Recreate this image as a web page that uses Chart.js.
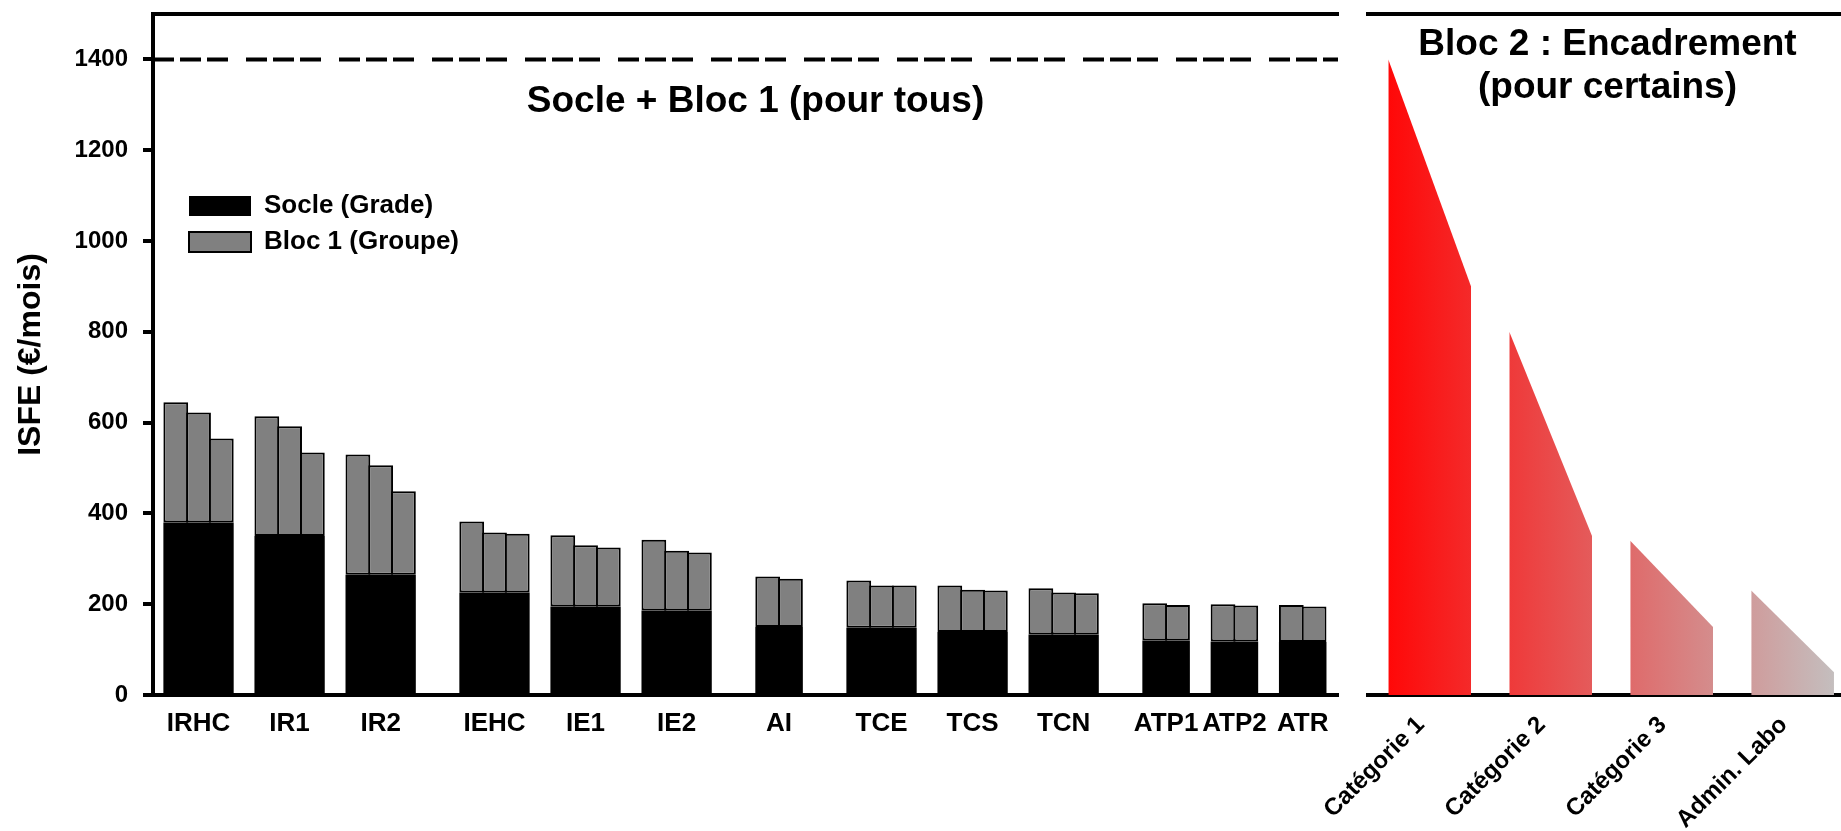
<!DOCTYPE html>
<html lang="fr">
<head>
<meta charset="utf-8">
<title>ISFE – Socle, Bloc 1 et Bloc 2</title>
<script src="https://cdn.jsdelivr.net/npm/chart.js@4.4.1/dist/chart.umd.min.js"></script>
<style>
  html, body { margin: 0; padding: 0; background: #fff; }
  body { width: 1841px; height: 831px; position: relative; overflow: hidden; }
  canvas { position: absolute; top: 0; }
  #leftChart { left: 0; }
  #rightChart { left: 1290px; }
</style>
</head>
<body>
<canvas id="leftChart" width="1345" height="831"></canvas>
<canvas id="rightChart" width="551" height="831"></canvas>
<script>
// Données (€/mois)
const groupes = ['IRHC', 'IR1', 'IR2', 'IEHC', 'IE1', 'IE2', 'AI', 'TCE', 'TCS', 'TCN', 'ATP1', 'ATP2', 'ATR'];
const familles = ['IR', 'IR', 'IR', 'IE', 'IE', 'IE', 'AI', 'TC', 'TC', 'TC', 'ATP', 'ATP', 'ATP'];
const socle = [380, 350, 265, 226, 195, 186, 150, 148, 139, 133, 120, 118, 117];
// Socle + Bloc 1, un total par barre (par échelon du groupe)
const totalBloc1 = [
  [645, 622, 565], [614, 592, 534], [530, 506, 449],
  [382, 358, 355], [352, 330, 325], [342, 318, 314],
  [261, 256],
  [252, 241, 241], [241, 232, 230], [235, 226, 224],
  [202, 198], [200, 197], [198, 195]
];
const plafond = 1400;
const yTicks = [0, 200, 400, 600, 800, 1000, 1200, 1400];
const yMax = 1500;

const bloc2Cats = ['Catégorie 1', 'Catégorie 2', 'Catégorie 3', 'Admin. Labo'];
const bloc2Haut = [1400, 800, 340, 230];
const bloc2Bas = [900, 350, 150, 50];

Chart.defaults.font.family = '"Liberation Sans", Arial, Helvetica, sans-serif';
Chart.defaults.font.weight = 'bold';
Chart.defaults.font.size = 24;
Chart.defaults.color = '#000';

// Placement des barres : une case par barre, 1 case vide entre groupes, 2 entre familles
let slot = 0;
const socleData = [], bloc1Data = [], centresGroupes = [];
groupes.forEach((g, i) => {
  if (i > 0) slot += familles[i] === familles[i - 1] ? 1 : 2;
  const n = totalBloc1[i].length;
  centresGroupes.push(slot + n / 2);
  totalBloc1[i].forEach((tot, j) => {
    const x = slot + j + 0.5;
    socleData.push({ x, y: socle[i] });
    bloc1Data.push({ x, y: [socle[i], tot] });
  });
  slot += n;
});
const xMin = -0.5, xMax = slot + 0.55;

// Titres de panneau écrits dans la zone de tracé
const titrePanneau = {
  id: 'titrePanneau',
  afterDraw(chart, args, opts) {
    const { ctx, chartArea } = chart;
    ctx.save();
    ctx.font = 'bold ' + (opts.size || 36) + 'px "Liberation Sans", Arial, sans-serif';
    ctx.fillStyle = '#000';
    ctx.textAlign = 'center';
    ctx.textBaseline = 'alphabetic';
    const cx = (chartArea.left + chartArea.right) / 2 + (opts.dx || 0);
    opts.lines.forEach((t, i) => ctx.fillText(t, cx, opts.y + i * 43));
    ctx.restore();
  }
};

// Légende posée dans le cadre, en haut à gauche
const legendeDansCadre = {
  id: 'legendeDansCadre',
  afterLayout(chart, args, opts) {
    const lg = chart.legend;
    if (!lg) return;
    lg.left = chart.chartArea.left + opts.dx;
    lg.top = chart.chartArea.top + opts.dy;
    lg.right = lg.left + lg.width;
    lg.bottom = chart.chartArea.bottom;
  }
};

const largeurBarre = 1.088; // barres jointives, bordures superposées

new Chart(document.getElementById('leftChart'), {
  type: 'bar',
  data: {
    datasets: [
      { label: 'Socle (Grade)', data: socleData, backgroundColor: '#000', borderWidth: 0,
        grouped: false, barPercentage: largeurBarre, categoryPercentage: 1 },
      { label: 'Bloc 1 (Groupe)', data: bloc1Data, backgroundColor: '#808080', borderColor: '#000',
        borderWidth: 2, borderSkipped: false, grouped: false, barPercentage: largeurBarre, categoryPercentage: 1 },
      { type: 'line', label: 'Plafond', data: [{ x: xMin, y: plafond }, { x: xMax, y: plafond }],
        borderColor: '#000', borderWidth: 4, borderDash: [21, 6, 21, 6, 21, 18], pointRadius: 0, fill: false }
    ]
  },
  options: {
    responsive: false,
    animation: false,
    layout: { padding: { left: 0, top: 14, right: 7, bottom: 0 } },
    scales: {
      x: {
        type: 'linear', min: xMin, max: xMax, offset: false,
        grid: { display: false, drawTicks: false, offset: false },
        border: { display: true, color: '#000', width: 4 },
        ticks: { autoSkip: false, maxRotation: 0, minRotation: 0, padding: 13, font: { size: 26 },
          callback: (v, i) => groupes[i] },
        afterBuildTicks: s => { s.ticks = centresGroupes.map(v => ({ value: v })); },
        afterFit: s => { s.height = 136; s.paddingLeft = 0; s.paddingRight = 0; }
      },
      xHaut: {
        type: 'linear', position: 'top', min: xMin, max: xMax, offset: false,
        grid: { display: false, drawTicks: false },
        ticks: { display: false },
        border: { display: true, color: '#000', width: 4 },
        afterFit: s => { s.height = 0; s.paddingLeft = 0; s.paddingRight = 0; }
      },
      y: {
        min: 0, max: yMax,
        grid: { display: true, drawOnChartArea: false, drawTicks: true, tickLength: 10, lineWidth: 4, color: '#000' },
        border: { display: true, color: '#000', width: 4 },
        ticks: { padding: 15, callback: v => String(v) },
        afterBuildTicks: s => { s.ticks = yTicks.map(v => ({ value: v })); },
        title: { display: true, text: 'ISFE (€/mois)', font: { size: 32, weight: 'bold' }, padding: { top: 12, bottom: 0 } },
        afterFit: s => { s.width = 153; s.paddingTop = 0; s.paddingBottom = 0; }
      }
    },
    plugins: {
      legend: {
        position: 'chartArea', align: 'start',
        labels: { boxWidth: 62, boxHeight: 20, padding: 10, color: '#000', font: { size: 26 },
          filter: it => it.datasetIndex < 2 }
      },
      tooltip: { enabled: false },
      legendeDansCadre: { dx: 26, dy: 169 },
      titrePanneau: { lines: ['Socle + Bloc 1 (pour tous)'], y: 112, dx: 10, size: 37 }
    }
  },
  plugins: [legendeDansCadre, titrePanneau]
});

// Bloc 2 : trapèzes (haut de fourchette -> bas de fourchette) en dégradé rouge
const demiLargeur = 0.342;
function degradeRouge(context) {
  const chart = context.chart;
  const xs = chart.scales && chart.scales.x;
  if (!chart.chartArea || !xs) return 'rgb(240,40,40)';
  const x0 = xs.getPixelForValue(-demiLargeur);
  const x1 = xs.getPixelForValue(bloc2Cats.length - 1 + demiLargeur);
  const g = chart.ctx.createLinearGradient(x0, 0, x1, 0);
  g.addColorStop(0, 'rgb(255,8,8)');
  g.addColorStop(1, 'rgb(196,190,190)');
  return g;
}

new Chart(document.getElementById('rightChart'), {
  type: 'line',
  data: {
    datasets: bloc2Cats.map((c, i) => ({
      label: c,
      data: [{ x: i - demiLargeur, y: bloc2Haut[i] }, { x: i + demiLargeur, y: bloc2Bas[i] }],
      fill: 'origin', borderWidth: 0, borderColor: 'rgba(0,0,0,0)', pointRadius: 0, tension: 0,
      backgroundColor: degradeRouge
    }))
  },
  options: {
    responsive: false,
    animation: false,
    layout: { padding: { left: 78, top: 14, right: 0, bottom: 0 } },
    scales: {
      x: {
        type: 'linear', min: -0.51, max: 3.4, offset: false,
        grid: { display: false, drawTicks: false },
        border: { display: true, color: '#000', width: 4 },
        ticks: { autoSkip: false, minRotation: 45, maxRotation: 45, padding: 16, labelOffset: -9,
          font: { size: 24 }, callback: (v, i) => bloc2Cats[i] },
        afterBuildTicks: s => { s.ticks = bloc2Cats.map((c, i) => ({ value: i })); },
        afterFit: s => { s.height = 136; s.paddingLeft = 0; s.paddingRight = 0; }
      },
      xHaut: {
        type: 'linear', position: 'top', min: -0.51, max: 3.4, offset: false,
        grid: { display: false, drawTicks: false },
        ticks: { display: false },
        border: { display: true, color: '#000', width: 4 },
        afterFit: s => { s.height = 0; s.paddingLeft = 0; s.paddingRight = 0; }
      },
      y: { display: false, min: 0, max: yMax }
    },
    plugins: {
      legend: { display: false },
      tooltip: { enabled: false },
      titrePanneau: { lines: ['Bloc 2 : Encadrement', '(pour certains)'], y: 55, dx: 3, size: 37 }
    }
  },
  plugins: [titrePanneau]
});
</script>
</body>
</html>
